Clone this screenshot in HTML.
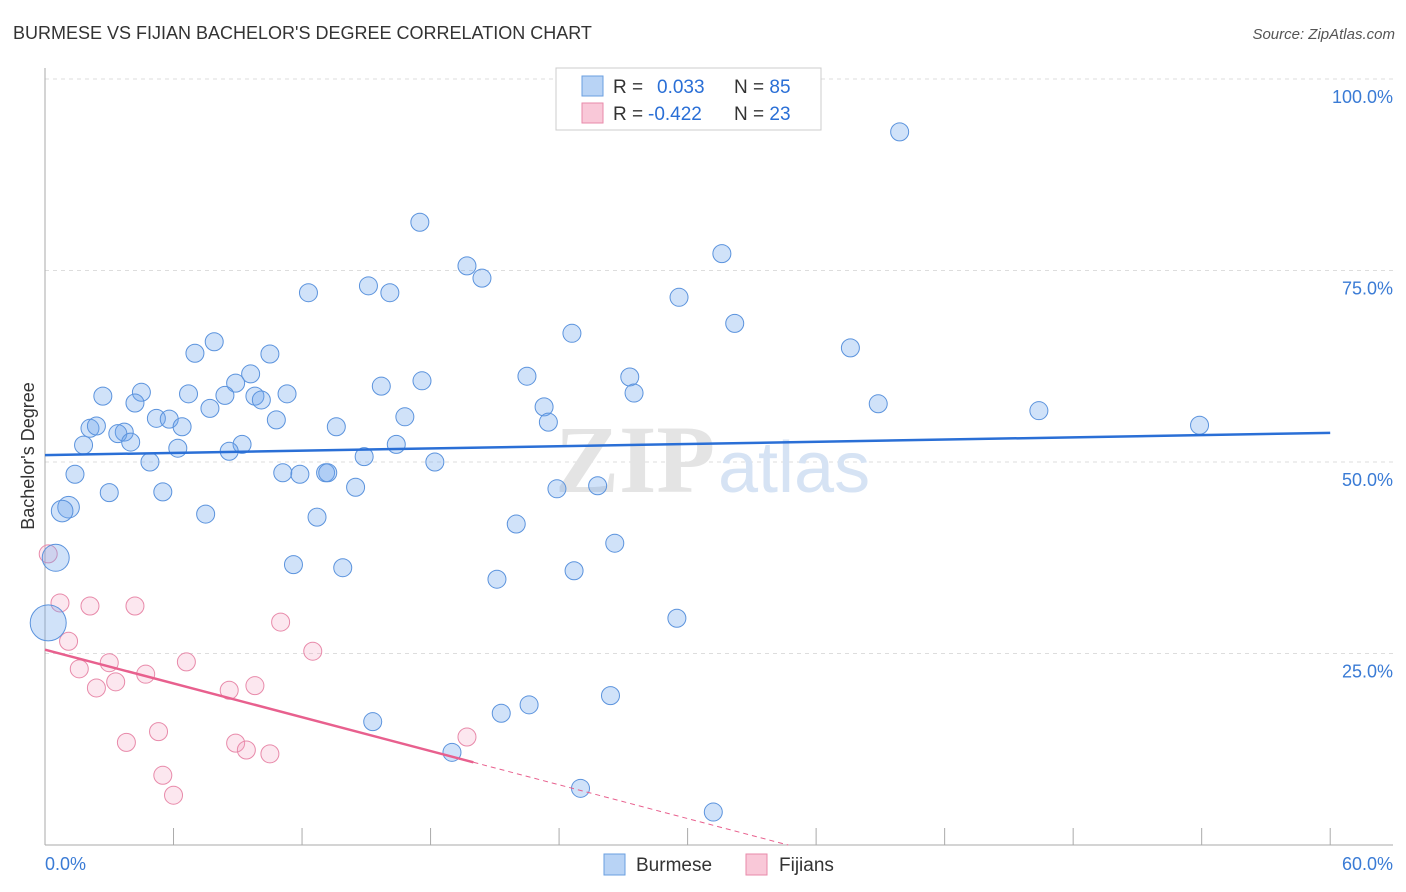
<!DOCTYPE html>
<html><head><meta charset="utf-8"><style>
body{margin:0;background:#fff;}
svg{display:block;font-family:"Liberation Sans",sans-serif;}
</style></head><body>
<svg id="chart" width="1406" height="892">
<text x="13" y="39" font-size="18" fill="#333">BURMESE VS FIJIAN BACHELOR'S DEGREE CORRELATION CHART</text>
<text x="1395" y="39" font-size="15" fill="#555" font-style="italic" text-anchor="end">Source: ZipAtlas.com</text>
<g id="grid"></g>
<g>
<text x="555" y="492" font-size="96" font-family="Liberation Serif,serif" font-weight="bold" fill="#e4e4e4">ZIP</text>
<text x="718" y="492" font-size="72" fill="#d6e3f4">atlas</text>
</g>
<g id="axes"></g>
<text transform="translate(34,456) rotate(-90)" font-size="18" fill="#333" text-anchor="middle">Bachelor's Degree</text>
<g id="pts"></g>
<g id="lines"></g>
<g>
<rect x="556" y="68" width="265" height="62" fill="#fff" stroke="#ccc"/>
<rect x="582" y="76" width="21" height="20" fill="#b8d3f5" stroke="#6a9fe0"/>
<rect x="582" y="103" width="21" height="20" fill="#f9c8d8" stroke="#e88aaa"/>
<text x="613" y="93" font-size="19" fill="#333">R = <tspan fill="#2a6fd6" x="657">0.033</tspan><tspan x="734" fill="#333">N = </tspan><tspan fill="#2a6fd6">85</tspan></text>
<text x="613" y="120" font-size="19" fill="#333">R = <tspan fill="#2a6fd6" x="648">-0.422</tspan><tspan x="734" fill="#333">N = </tspan><tspan fill="#2a6fd6">23</tspan></text>
</g>
<g>
<rect x="604" y="854" width="21" height="21" fill="#b8d3f5" stroke="#6a9fe0"/>
<text x="636" y="871" font-size="19" fill="#333">Burmese</text>
<rect x="746" y="854" width="21" height="21" fill="#f9c8d8" stroke="#e88aaa"/>
<text x="779" y="871" font-size="19" fill="#333">Fijians</text>
</g>
</svg>
<script>
const burX=[39.9,17.5,31.6,19.7,20.4,12.3,15.1,16.1,29.6,32.2,24.6,37.6,7.9,7.0,10.5,9.6,8.9,17.6,15.7,22.5,27.3,2.7,4.5,6.7,8.4,9.8,10.1,11.3,4.2,7.7,23.3,27.5,38.9,46.4,16.8,5.2,5.8,10.8,6.4,2.1,2.4,13.6,23.5,53.9,3.7,3.4,4.0,1.8,6.2,16.4,9.2,8.6,14.9,4.9,18.2,1.4,11.1,11.9,13.1,13.2,14.5,23.9,25.8,3.0,5.5,1.1,0.8,7.5,12.7,22.0,26.6,11.6,13.9,21.1,24.7,0.5,0.15,29.5,26.4,22.6,21.3,15.3,19.0,25.0,31.2];
const burY=[93.1,81.3,77.2,75.6,74.0,72.1,73.0,72.1,71.5,68.1,66.8,64.9,65.7,64.2,64.1,61.5,60.3,60.6,59.9,61.2,61.1,58.6,59.1,58.9,58.7,58.6,58.1,58.9,57.7,57.0,57.2,59.0,57.6,56.7,55.9,55.7,55.6,55.5,54.6,54.4,54.7,54.6,55.2,54.8,53.9,53.7,52.6,52.2,51.8,52.3,52.3,51.4,50.7,50.0,50.0,48.4,48.6,48.4,48.6,48.6,46.7,46.5,46.9,46.0,46.1,44.1,43.6,43.2,42.8,41.9,39.4,36.6,36.2,34.7,35.8,37.5,29.0,29.6,19.5,18.3,17.2,16.1,12.1,7.4,4.3];
const burSize=[1,1,1,1,1,1,1,1,1,1,1,1,1,1,1,1,1,1,1,1,1,1,1,1,1,1,1,1,1,1,1,1,1,1,1,1,1,1,1,1,1,1,1,1,1,1,1,1,1,1,1,1,1,1,1,1,1,1,1,1,1,1,1,1,1,1.2,1.2,1,1,1,1,1,1,1,1,1.5,2,1,1,1,1,1,1,1,1];
const fijX=[0.15,0.7,2.1,4.2,1.1,11.0,12.5,6.6,3.0,1.6,4.7,3.3,2.4,8.6,9.8,19.7,5.3,3.8,8.9,9.4,10.5,5.5,6.0];
const fijY=[38.0,31.6,31.2,31.2,26.6,29.1,25.3,23.9,23.8,23.0,22.3,21.3,20.5,20.2,20.8,14.1,14.8,13.4,13.3,12.4,11.9,9.1,6.5];
const burTrend=[50.9,53.8];
const fijTrend=[25.5,-0.735];
const xTicks=[0,6,12,18,24,30,36,42,48,54,60];
const yTicks=[25,50,75,100];
const yTickLabels=["25.0%","50.0%","75.0%","100.0%"];
const xTickLabels=["0.0%","60.0%"];

const NS="http://www.w3.org/2000/svg";
const sx=v=>45+v*21.42, sy=v=>845-v*7.66;
function mk(tag,attrs,parent){const e=document.createElementNS(NS,tag);for(const k in attrs)e.setAttribute(k,attrs[k]);parent.appendChild(e);return e;}
const grid=document.getElementById('grid'),axes=document.getElementById('axes'),pts=document.getElementById('pts'),lines=document.getElementById('lines');
yTicks.forEach((t,i)=>{
 const l=mk('line',{x1:45,x2:1393,y1:sy(t),y2:sy(t),stroke:'#ddd','stroke-dasharray':'4,4'},grid);
 
 
 const tx=mk('text',{x:1393,y:sy(t)+24,'font-size':18,fill:'#3a7bd5','text-anchor':'end'},axes);
 tx.textContent=yTickLabels[i];
 
 
});
mk('line',{x1:45,x2:45,y1:68,y2:845,stroke:'#aaa'},axes);
mk('line',{x1:45,x2:1393,y1:845,y2:845,stroke:'#aaa'},axes);
xTicks.forEach(t=>{
 const l=mk('line',{x1:sx(t),x2:sx(t),y1:828,y2:845,stroke:'#aaa'},axes);
 
 
});
const xl0=mk('text',{x:45,y:870,'font-size':18,fill:'#3a7bd5'},axes);xl0.textContent=xTickLabels[0];


const xl1=mk('text',{x:1393,y:870,'font-size':18,fill:'#3a7bd5','text-anchor':'end'},axes);xl1.textContent=xTickLabels[1];


fijX.forEach((x,i)=>{
 const c=mk('circle',{cx:sx(x),cy:sy(fijY[i]),r:9,fill:'rgba(245,160,190,0.25)',stroke:'#e88aaa','stroke-width':1},pts);
 
 
});
burX.forEach((x,i)=>{
 const c=mk('circle',{cx:sx(x),cy:sy(burY[i]),r:9*burSize[i],fill:'rgba(110,165,235,0.32)',stroke:'#5b93dd','stroke-width':1},pts);
 
 
});
const bl=mk('line',{x1:sx(0),y1:sy(burTrend[0]),x2:sx(60),y2:sy(burTrend[1]),stroke:'#2a6fd6','stroke-width':2.5},lines);


const fy=x=>fijTrend[0]+fijTrend[1]*x;
const fl=mk('line',{x1:sx(0),y1:sy(fy(0)),x2:sx(20),y2:sy(fy(20)),stroke:'#e8608e','stroke-width':2.5},lines);


const fd=mk('line',{x1:sx(20),y1:sy(fy(20)),x2:sx(34.7),y2:sy(fy(34.7)),stroke:'#e8608e','stroke-width':1,'stroke-dasharray':'5,4'},lines);


</script>
</body></html>
